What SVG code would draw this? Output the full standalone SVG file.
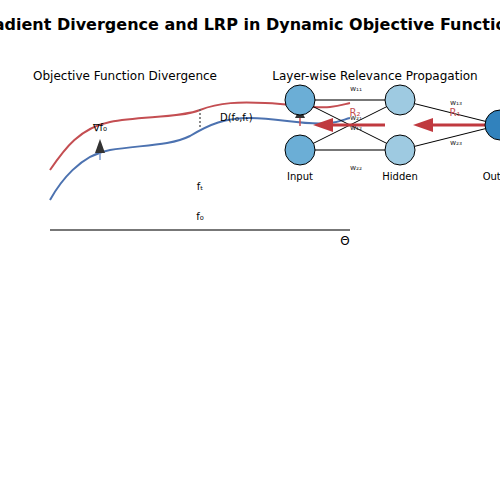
<svg xmlns="http://www.w3.org/2000/svg" width="500" height="500" viewBox="0 0 500 500">
<defs>
<style>
.t{font-family:"DejaVu Sans","Liberation Sans",sans-serif;fill:#000}
.title{font-size:16px;font-weight:bold}
.sub{font-size:12px}
.lbl{font-size:10px}
.w{font-size:7.5px;fill:#333}
.r{font-size:10px;fill:#c44e52}
.curve{fill:none;stroke-width:2}
.node{stroke:#000;stroke-width:1}
.thin{stroke:#000;stroke-width:1}
.thick{stroke:#777;stroke-width:2}
.rel{stroke:#c0393f;stroke-width:3}
</style>
</defs>
<rect width="500" height="500" fill="#fff"/>
<text class="t title" x="250" y="30" text-anchor="middle">Gradient Divergence and LRP in Dynamic Objective Functions</text>
<text class="t sub" x="125" y="80" text-anchor="middle">Objective Function Divergence</text>
<text class="t sub" x="375" y="80" text-anchor="middle">Layer-wise Relevance Propagation</text>

<g id="curves">
<path class="curve" stroke="#c44e52" d="M50,170 C65,148 80,128 110,122 C140,116 180,118 200,110 C220,102 240,102 265,103 C295,104 315,109 330,107 C340,106 345,104 350,103"/>
<path class="curve" stroke="#4c72b0" d="M50,200 C60,182 80,155 110,150 C140,145 170,146 190,136 C210,124 225,118 250,118 C280,118 305,126 330,123 C340,122 345,119 350,118"/>
<line x1="200" y1="109" x2="200" y2="129" stroke="#666" stroke-width="1.5" stroke-dasharray="2,2"/>
<text class="t lbl" x="220" y="121">D(f₀,fₜ)</text>
<text class="t lbl" x="100" y="131" text-anchor="middle">∇f₀</text>
<line x1="100" y1="160" x2="100" y2="152" stroke="#7a9ad0" stroke-width="1.5"/>
<polygon points="95,153 105,153 100,139" fill="#333"/>
<line x1="300" y1="126" x2="300" y2="116" stroke="#c44e52" stroke-width="1.5"/>
<polygon points="295,118 305,118 300,108" fill="#333"/>
<text class="t lbl" x="200" y="190" text-anchor="middle">fₜ</text>
<text class="t lbl" x="200" y="220" text-anchor="middle">f₀</text>
<line x1="50" y1="230" x2="350" y2="230" stroke="#777" stroke-width="2"/>
<text class="t sub" x="345" y="245" text-anchor="middle">Θ</text>
</g>

<g id="connectors">
<line class="thick" x1="300" y1="100" x2="400" y2="100"/>
<line class="thick" x1="300" y1="150" x2="400" y2="150"/>
<line class="thin" x1="300" y1="100" x2="400" y2="150"/>
<line class="thin" x1="300" y1="150" x2="400" y2="100"/>
<line class="thin" x1="400" y1="100" x2="500" y2="125"/>
<line class="thin" x1="400" y1="150" x2="500" y2="125"/>
<line class="rel" x1="485" y1="125" x2="430" y2="125"/>
<polygon points="413,125 433,118 433,132" fill="#c0393f"/>
<line class="rel" x1="385" y1="125" x2="330" y2="125"/>
<polygon points="313,125 333,118 333,132" fill="#c0393f"/>
<text class="t w" x="356" y="91" text-anchor="middle">w₁₁</text>
<text class="t w" x="356" y="120" text-anchor="middle">w₂₁</text>
<text class="t w" x="356" y="130" text-anchor="middle">w₁₂</text>
<text class="t w" x="356" y="170" text-anchor="middle">w₂₂</text>
<text class="t w" x="456" y="105" text-anchor="middle">w₁₃</text>
<text class="t w" x="456" y="145" text-anchor="middle">w₂₃</text>
<text class="t r" x="355" y="116" text-anchor="middle">R₂</text>
<text class="t r" x="455" y="116" text-anchor="middle">R₁</text>
</g>

<g id="input1"><circle class="node" cx="300" cy="100" r="15" fill="#6baed6"/></g>
<g id="input2"><circle class="node" cx="300" cy="150" r="15" fill="#6baed6"/></g>
<g id="hidden1"><circle class="node" cx="400" cy="100" r="15" fill="#9ecae1"/></g>
<g id="hidden2"><circle class="node" cx="400" cy="150" r="15" fill="#9ecae1"/></g>
<g id="output"><circle class="node" cx="500" cy="125" r="15" fill="#3182bd"/></g>
<g id="layer-labels">
<text class="t lbl" x="300" y="180" text-anchor="middle">Input</text>
<text class="t lbl" x="400" y="180" text-anchor="middle">Hidden</text>
<text class="t lbl" x="500" y="180" text-anchor="middle">Output</text>
</g>
</svg>
